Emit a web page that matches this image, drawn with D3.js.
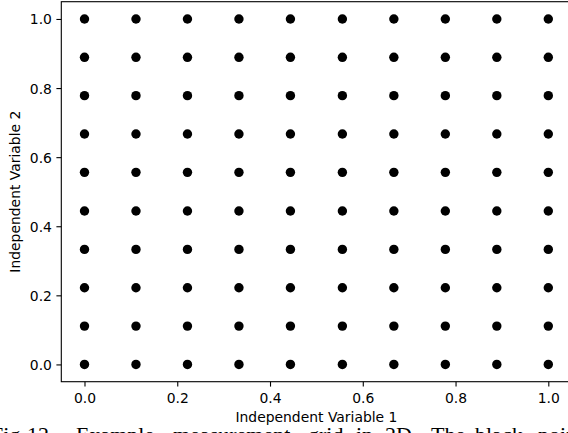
<!DOCTYPE html>
<html>
<head>
<meta charset="utf-8">
<script src="https://cdn.jsdelivr.net/npm/d3@7"></script>
<style>
  html, body { margin: 0; padding: 0; background: #fff; overflow: hidden; }
  svg { display: block; }
</style>
</head>
<body>
<svg id="chart" width="568" height="433"></svg>
<script>
// ---- data ----
const xValues = [0.0, 0.111, 0.222, 0.333, 0.444, 0.556, 0.667, 0.778, 0.889, 1.0];
const yValues = [0.0, 0.111, 0.222, 0.333, 0.444, 0.556, 0.667, 0.778, 0.889, 1.0];
const xTicks = [0.0, 0.2, 0.4, 0.6, 0.8, 1.0];
const yTicks = [0.0, 0.2, 0.4, 0.6, 0.8, 1.0];
const xTickLabels = ["0.0", "0.2", "0.4", "0.6", "0.8", "1.0"];
const yTickLabels = ["0.0", "0.2", "0.4", "0.6", "0.8", "1.0"];
const xLabel = "Independent Variable 1";
const yLabel = "Independent Variable 2";
const captionWords = ["Fig.", "12.", "Example", "measurement", "grid", "in", "2D.", "The", "black", "points"];
const captionX = [-9, 27, 76, 173, 308, 356, 385, 431, 475, 538];

// ---- layout ----
const svg = d3.select("#chart");
const x = d3.scaleLinear().domain([-0.05, 1.05]).range([61.3, 571.5]);
const y = d3.scaleLinear().domain([-0.05, 1.05]).range([381.7, 1.7]);
const tickFont = "'DejaVu Sans', sans-serif";
const fs = 13.9;

const points = [];
yValues.forEach(yv => xValues.forEach(xv => points.push({x: xv, y: yv})));

// points
svg.append("g").selectAll("circle").data(points).join("circle")
  .attr("cx", d => x(d.x)).attr("cy", d => y(d.y)).attr("r", 4.7)
  .attr("fill", "#000");

// axes
const xAxis = d3.axisBottom(x).tickValues(xTicks)
  .tickFormat((d, i) => xTickLabels[i]).tickSize(4.9).tickPadding(4.5);
const yAxis = d3.axisLeft(y).tickValues(yTicks)
  .tickFormat((d, i) => yTickLabels[i]).tickSize(4.9).tickPadding(4.5);

const gx = svg.append("g").attr("transform", `translate(0,${y(-0.05)})`).call(xAxis);
const gy = svg.append("g").attr("transform", `translate(${x(-0.05)},0)`).call(yAxis);
[gx, gy].forEach(g => {
  g.select(".domain").remove();
  g.selectAll(".tick line").attr("stroke", "#000").attr("stroke-width", 1.1);
  g.selectAll(".tick text").attr("fill", "#000")
    .style("font-family", tickFont).style("font-size", fs + "px");
});
gx.selectAll(".tick text").attr("dy", null).attr("y", 21.5);
gy.selectAll(".tick text").attr("dy", "0.36em");

// spines
svg.append("rect")
  .attr("x", x(-0.05)).attr("y", y(1.05))
  .attr("width", x(1.05) - x(-0.05)).attr("height", y(-0.05) - y(1.05))
  .attr("fill", "none").attr("stroke", "#000").attr("stroke-width", 1.1);

// axis labels
svg.append("text").attr("x", (x(-0.05) + x(1.05)) / 2).attr("y", 421.8)
  .attr("text-anchor", "middle").attr("fill", "#000")
  .style("font-family", tickFont).style("font-size", fs + "px").text(xLabel);
svg.append("text")
  .attr("transform", `translate(19.8,${(y(-0.05) + y(1.05)) / 2}) rotate(-90)`)
  .attr("text-anchor", "middle").attr("fill", "#000")
  .style("font-family", tickFont).style("font-size", fs + "px").text(yLabel);

// caption (cut off at the bottom)
svg.append("g").selectAll("text").data(captionWords).join("text")
  .attr("x", (d, i) => captionX[i]).attr("y", 441.5)
  .attr("fill", "#000")
  .style("font-family", "'Liberation Serif', serif").style("font-size", "22px")
  .text(d => d);
</script>
</body>
</html>
